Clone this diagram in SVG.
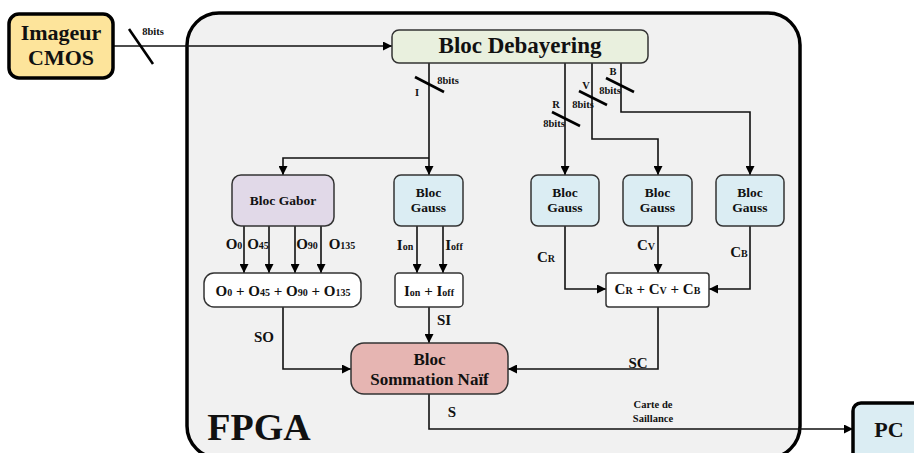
<svg xmlns="http://www.w3.org/2000/svg" width="914" height="453" viewBox="0 0 914 453">
<defs>
<marker id="ah" viewBox="0 0 10 10" refX="10" refY="5" markerWidth="9" markerHeight="9" markerUnits="userSpaceOnUse" orient="auto">
<path d="M0,0 L10,5 L0,10 z" fill="#000"/>
</marker>
<style>
text{font-family:"Liberation Serif","DejaVu Serif",serif;font-weight:bold;fill:#111;text-anchor:middle}
.box{stroke:#333;stroke-width:1.5}
.thick{stroke:#000;stroke-width:3.5}
.conn{fill:none;stroke:#111;stroke-width:1.6}
.arr{marker-end:url(#ah)}
.slash{stroke:#000;stroke-width:2.6}
.sm{font-size:10.5px}
.lbl{font-size:15px}
.sub{font-size:10px}
.blk{font-size:13.5px}
</style>
</defs>
<rect width="914" height="453" fill="#fff"/>
<g id="fpga">
<rect x="187" y="13" width="613" height="445" rx="32" ry="32" fill="#f1f1f1" class="thick"/>
<text x="259" y="440" font-size="38" text-anchor="middle">FPGA</text>
</g>
<g id="connectors">
<path class="conn arr" d="M113,46 H392"/>
<line class="slash" x1="129" y1="29" x2="153" y2="64"/>
<path class="conn arr" d="M429,63 V175"/>
<path class="conn arr" d="M429,158 H283 V175"/>
<line class="slash" x1="415" y1="77" x2="444" y2="92"/>
<path class="conn arr" d="M565,63 V175"/>
<path class="conn arr" d="M592,63 V139 H658 V175"/>
<path class="conn arr" d="M621,63 V112 H750 V175"/>
<line class="slash" x1="552" y1="112" x2="580" y2="126"/>
<line class="slash" x1="579" y1="91" x2="607" y2="105"/>
<line class="slash" x1="606" y1="78" x2="634" y2="92"/>
<path class="conn arr" d="M244,226 V273"/>
<path class="conn arr" d="M269,226 V273"/>
<path class="conn arr" d="M295,226 V273"/>
<path class="conn arr" d="M321,226 V273"/>
<path class="conn arr" d="M417,226 V273"/>
<path class="conn arr" d="M443,226 V273"/>
<path class="conn arr" d="M565,226 V289 H606"/>
<path class="conn arr" d="M658,226 V273"/>
<path class="conn arr" d="M750,226 V289 H709"/>
<path class="conn arr" d="M283,307 V369 H351"/>
<path class="conn arr" d="M429,307 V343"/>
<path class="conn arr" d="M658,307 V369 H508"/>
<path class="conn arr" d="M429,394 V429 H853"/>
<text class="sm" x="153" y="35">8bits</text>
<text class="sm" x="448" y="84">8bits</text>
<text class="sm" x="417" y="96">I</text>
<text class="sm" x="556" y="108">R</text>
<text class="sm" x="554" y="127">8bits</text>
<text class="sm" x="586" y="89">V</text>
<text class="sm" x="583" y="108">8bits</text>
<text class="sm" x="613" y="75">B</text>
<text class="sm" x="610" y="94">8bits</text>
<text class="lbl" x="234" y="249">O<tspan class="sub">0</tspan></text>
<text class="lbl" x="258" y="249">O<tspan class="sub">45</tspan></text>
<text class="lbl" x="307" y="249">O<tspan class="sub">90</tspan></text>
<text class="lbl" x="342" y="249">O<tspan class="sub">135</tspan></text>
<text class="lbl" x="405" y="250">I<tspan class="sub">on</tspan></text>
<text class="lbl" x="454" y="250">I<tspan class="sub">off</tspan></text>
<text class="lbl" x="546" y="262">C<tspan class="sub">R</tspan></text>
<text class="lbl" x="646" y="250">C<tspan class="sub">V</tspan></text>
<text class="lbl" x="739" y="257">C<tspan class="sub">B</tspan></text>
<text class="lbl" x="264" y="342">SO</text>
<text class="lbl" x="444" y="325">SI</text>
<text class="lbl" x="638" y="368">SC</text>
<text class="lbl" x="452" y="417">S</text>
<text class="sm" x="653" y="408">Carte de</text>
<text class="sm" x="653" y="422">Saillance</text>
</g>
<g id="imageur">
<rect x="9" y="14" width="104" height="64" rx="10" fill="#fde49b" class="thick"/>
<text x="61" y="40" font-size="22">Imageur</text>
<text x="61" y="65" font-size="22">CMOS</text>
</g>
<g id="debayering">
<rect x="392" y="30" width="256" height="33" rx="7" fill="#e9f0de" class="box"/>
<text x="520" y="53" font-size="23">Bloc Debayering</text>
</g>
<g id="gabor">
<rect x="232" y="175" width="102" height="51" rx="9" fill="#e1d9e8" class="box"/>
<text class="blk" x="283" y="205">Bloc Gabor</text>
</g>
<g id="gauss-i">
<rect x="394" y="175" width="69" height="51" rx="7" fill="#dbedf3" class="box"/>
<text class="blk" x="428.5" y="197">Bloc</text>
<text class="blk" x="428.5" y="212">Gauss</text>
</g>
<g id="gauss-r">
<rect x="531" y="175" width="68" height="51" rx="7" fill="#dbedf3" class="box"/>
<text class="blk" x="565" y="197">Bloc</text>
<text class="blk" x="565" y="212">Gauss</text>
</g>
<g id="gauss-v">
<rect x="623" y="175" width="69" height="51" rx="7" fill="#dbedf3" class="box"/>
<text class="blk" x="657.5" y="197">Bloc</text>
<text class="blk" x="657.5" y="212">Gauss</text>
</g>
<g id="gauss-b">
<rect x="716" y="175" width="68" height="51" rx="7" fill="#dbedf3" class="box"/>
<text class="blk" x="750" y="197">Bloc</text>
<text class="blk" x="750" y="212">Gauss</text>
</g>
<g id="sum-o">
<rect x="204" y="273" width="157" height="34" rx="10" fill="#fff" class="box"/>
<text class="lbl" x="283" y="296">O<tspan class="sub">0</tspan> + O<tspan class="sub">45</tspan> + O<tspan class="sub">90</tspan> + O<tspan class="sub">135</tspan></text>
</g>
<g id="sum-i">
<rect x="395" y="273" width="68" height="34" rx="4" fill="#fff" class="box"/>
<text class="lbl" x="429" y="296">I<tspan class="sub">on</tspan> + I<tspan class="sub">off</tspan></text>
</g>
<g id="sum-c">
<rect x="606" y="273" width="103" height="34" rx="3" fill="#fff" class="box"/>
<text class="lbl" x="657.5" y="294">C<tspan class="sub">R</tspan> + C<tspan class="sub">V</tspan> + C<tspan class="sub">B</tspan></text>
</g>
<g id="sommation">
<rect x="351" y="343" width="157" height="51" rx="13" fill="#e6b5b2" class="box"/>
<text x="429.5" y="365" font-size="17">Bloc</text>
<text x="429.5" y="385" font-size="17">Sommation Naïf</text>
</g>
<g id="pc">
<rect x="853" y="403" width="70" height="60" rx="8" fill="#dbedf3" class="thick"/>
<text x="889" y="437" font-size="22">PC</text>
</g>
</svg>
